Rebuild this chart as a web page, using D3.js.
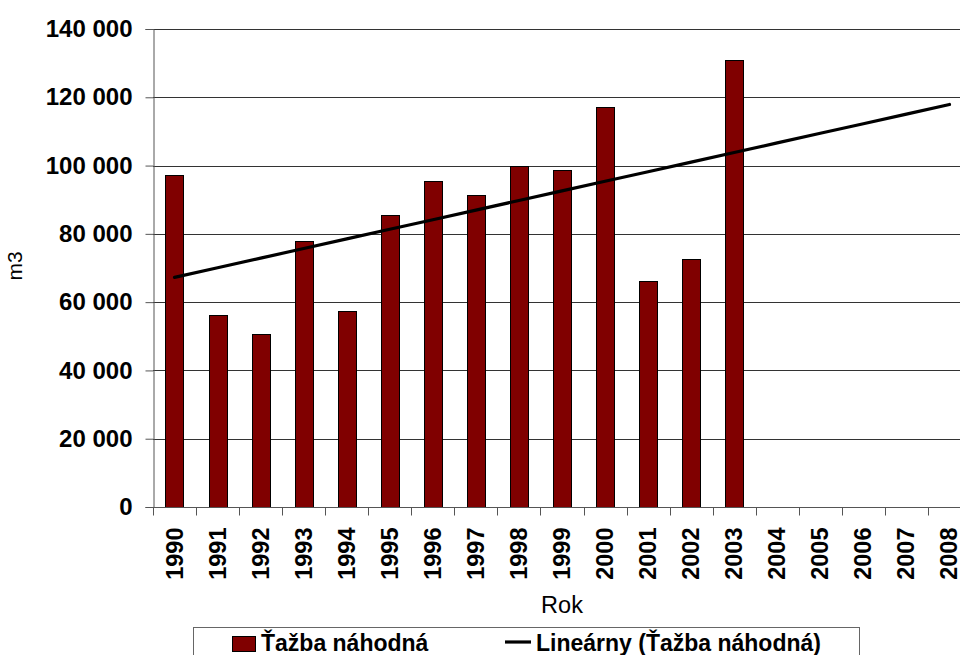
<!DOCTYPE html>
<html>
<head>
<meta charset="utf-8">
<script src="https://cdn.jsdelivr.net/npm/d3@7"></script>
<style>
  body { margin: 0; background: #fff; }
  svg { display: block; font-family: "Liberation Sans", Arial, sans-serif; }
</style>
</head>
<body>
<svg id="chart"></svg>
<script>
(function (d3) {
    'use strict';

    var years = ['1990', '1991', '1992', '1993', '1994', '1995', '1996', '1997', '1998', '1999',
        '2000', '2001', '2002', '2003', '2004', '2005', '2006', '2007', '2008'];
    var tazbaYears = ['1990', '1991', '1992', '1993', '1994', '1995', '1996', '1997', '1998', '1999',
        '2000', '2001', '2002', '2003'];
    var tazbaValues = [97200, 56300, 50600, 77900, 57500, 85600, 95500, 91400, 99900, 98800,
        117200, 66200, 72600, 131000];
    var yTicks = [0, 20000, 40000, 60000, 80000, 100000, 120000, 140000];

    var width = 960,
        height = 655,
        margin = { top: 29, right: -11, bottom: 148, left: 153 };

    var locale = d3.formatLocale({ decimal: ',', thousands: '\u00a0', grouping: [3], currency: ['', ''] });
    var numFormat = locale.format(',.0f');

    var x = d3.scaleBand().domain(years).range([margin.left, width - margin.right]).paddingInner(0).paddingOuter(0),
        y = d3.scaleLinear().domain([0, 140000]).range([height - margin.bottom, margin.top]);

    var svg = d3.select('#chart')
        .attr('width', width)
        .attr('height', height);

    // linear trend (least squares over the recorded years), drawn across all years
    var mx = d3.mean(tazbaValues, function (d, i) { return i; }),
        my = d3.mean(tazbaValues),
        sxy = d3.sum(tazbaValues, function (d, i) { return (i - mx) * (d - my); }),
        sxx = d3.sum(tazbaValues, function (d, i) { return (i - mx) * (i - mx); }),
        slope = sxy / sxx,
        intercept = my - slope * mx;

    // gridlines
    svg.append('g')
        .selectAll('line')
        .data(yTicks.slice(1))
        .enter()
        .append('line')
        .attr('x1', margin.left)
        .attr('x2', width - margin.right)
        .attr('y1', function (d) { return Math.round(y(d)) + 0.5; })
        .attr('y2', function (d) { return Math.round(y(d)) + 0.5; })
        .attr('stroke', '#333')
        .attr('stroke-width', 1);

    // bars
    var barW = x.bandwidth() * 0.42;
    svg.append('g')
        .selectAll('rect')
        .data(tazbaValues)
        .enter()
        .append('rect')
        .attr('x', function (d, i) { return Math.round(x(tazbaYears[i]) + (x.bandwidth() - barW) / 2) + 0.5; })
        .attr('y', function (d) { return Math.round(y(d)) + 0.5; })
        .attr('width', Math.round(barW))
        .attr('height', function (d) { return Math.round(y(0)) - Math.round(y(d)); })
        .attr('fill', '#800000')
        .attr('stroke', '#000')
        .attr('stroke-width', 1);

    // trend line
    var line = d3.line()
        .x(function (d) { return x(d) + x.bandwidth() / 2; })
        .y(function (d, i) { return y(intercept + slope * i); });

    svg.append('path')
        .datum(years)
        .attr('d', line)
        .attr('fill', 'none')
        .attr('stroke', '#000')
        .attr('stroke-width', 3.2)
        .attr('stroke-linecap', 'round');

    // axes
    var yAxis = svg.append('g')
        .attr('transform', 'translate(' + (margin.left + 0.5) + ',0)')
        .call(d3.axisLeft(y).tickValues(yTicks).tickSize(8).tickPadding(13).tickFormat(numFormat));
    yAxis.select('.domain').attr('stroke', '#555');
    yAxis.selectAll('.tick line').attr('stroke', '#555');
    yAxis.selectAll('.tick text')
        .attr('fill', '#000')
        .style('font-size', '24px')
        .style('font-weight', 'bold');

    var xAxis = svg.append('g')
        .attr('transform', 'translate(0,' + (Math.round(y(0)) + 0.5) + ')');
    xAxis.append('line')
        .attr('x1', margin.left)
        .attr('x2', width - margin.right)
        .attr('stroke', '#555');
    xAxis.selectAll('.xtick')
        .data(years.concat(['end']))
        .enter()
        .append('line')
        .attr('x1', function (d, i) { return Math.round(margin.left + i * x.step()) + 0.5; })
        .attr('x2', function (d, i) { return Math.round(margin.left + i * x.step()) + 0.5; })
        .attr('y1', 0)
        .attr('y2', 8)
        .attr('stroke', '#555');
    xAxis.selectAll('.xlabel')
        .data(years)
        .enter()
        .append('text')
        .attr('transform', function (d) {
            return 'translate(' + (x(d) + x.bandwidth() / 2 + 8) + ',20) rotate(-90)';
        })
        .attr('text-anchor', 'end')
        .style('font-size', '23.5px')
        .style('font-weight', 'bold')
        .text(function (d) { return d; });

    // axis titles
    svg.append('text')
        .attr('transform', 'translate(22,266) rotate(-90)')
        .attr('text-anchor', 'middle')
        .style('font-size', '21px')
        .text('m3');

    svg.append('text')
        .attr('x', 562)
        .attr('y', 613)
        .attr('text-anchor', 'middle')
        .style('font-size', '23.5px')
        .text('Rok');

    // legend
    var legend = svg.append('g');
    legend.append('rect')
        .attr('x', 193.5)
        .attr('y', 627.5)
        .attr('width', 666)
        .attr('height', 40)
        .attr('fill', '#fff')
        .attr('stroke', '#666');
    legend.append('rect')
        .attr('x', 232.5)
        .attr('y', 636.5)
        .attr('width', 23)
        .attr('height', 15)
        .attr('fill', '#800000')
        .attr('stroke', '#000');
    legend.append('text')
        .attr('x', 261)
        .attr('y', 651)
        .style('font-size', '23px')
        .style('font-weight', 'bold')
        .text('Ťažba náhodná');
    legend.append('line')
        .attr('x1', 505)
        .attr('x2', 531)
        .attr('y1', 642)
        .attr('y2', 642)
        .attr('stroke', '#000')
        .attr('stroke-width', 3.2);
    legend.append('text')
        .attr('x', 536)
        .attr('y', 651)
        .style('font-size', '23px')
        .style('font-weight', 'bold')
        .text('Lineárny (Ťažba náhodná)');

})(window.d3);
</script>
</body>
</html>
